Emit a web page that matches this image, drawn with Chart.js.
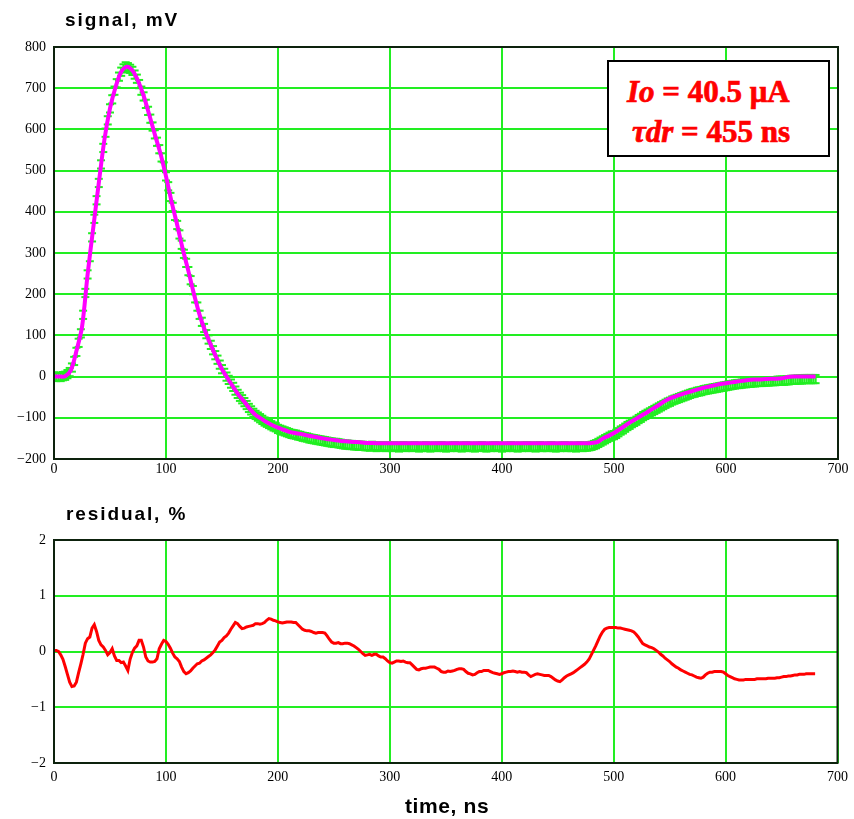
<!DOCTYPE html>
<html>
<head>
<meta charset="utf-8">
<script src="https://cdn.jsdelivr.net/npm/chart.js@4.4.1/dist/chart.umd.min.js"></script>
<style>
  body { margin: 0; background: #fff; width: 854px; height: 819px; position: relative; overflow: hidden; }
  canvas { position: absolute; left: 0; }
  .ttl { position: absolute; font-family: Arial, "Liberation Sans", sans-serif; font-weight: bold; color: #000; line-height: 1; white-space: nowrap; }
  #box { position: absolute; left: 607px; top: 60px; width: 219px; height: 93px; border: 2px solid #000; background: #fff; z-index: 5; }
  .ann { position: absolute; font-family: "Liberation Serif", "Times New Roman", serif; font-weight: 700; color: #ff0000; font-size: 31px; line-height: 1; white-space: nowrap; z-index: 6; -webkit-text-stroke: 0.7px #ff0000; }
</style>
</head>
<body>
<canvas id="signal-chart" width="854" height="490" style="top:0"></canvas>
<canvas id="residual-chart" width="854" height="329" style="top:490px"></canvas>
<div class="ttl" style="left:65px; top:10px; font-size:19px; letter-spacing:1.9px">signal, mV</div>
<div class="ttl" style="left:66px; top:504px; font-size:19px; letter-spacing:1.9px">residual, %</div>
<div class="ttl" style="left:405px; top:795px; font-size:21px; letter-spacing:0.6px">time, ns</div>
<div id="box"></div>
<div class="ann" style="left:627px; top:76px"><i>Io</i> = 40.5 μA</div>
<div class="ann" style="left:632px; top:116px"><i>τdr</i> = 455 ns</div>
<script>
// sampling steps, ns
const DATA_STEP = 2
const FIT_STEP = 5
const ERR = 10 // mV, error bar half height

// measured signal, mV, every 2 ns from 0 to 680
const signal = [
  0, -1, 0, -1, 1, 2, 6, 11, 22, 38,
  60, 82, 105, 150, 203, 248, 290, 338, 383, 428,
  470, 515, 555, 592, 622, 651, 673, 694, 712, 728,
  740, 748, 753, 751, 747, 742, 733, 723, 710, 694,
  680, 662, 645, 626, 607, 588, 570, 552, 532, 510,
  486, 462, 436, 412, 390, 368, 345, 320, 298, 276,
  256, 234, 210, 190, 170, 150, 133, 118, 103, 90,
  77, 64, 52, 41, 29, 18, 9, 0, -8, -17,
  -25, -34, -42, -49, -55, -62, -69, -76, -82, -88,
  -93, -97, -101, -105, -109, -112, -115, -118, -121, -123,
  -127, -129, -131, -133, -135, -137, -139, -140, -141, -143,
  -144, -146, -147, -148, -150, -151, -152, -153, -154, -155,
  -156, -157, -158, -159, -160, -161, -161, -162, -163, -164,
  -165, -165, -166, -166, -167, -167, -168, -168, -168, -169,
  -169, -170, -168, -169, -171, -170, -169, -170, -171, -169,
  -170, -171, -169, -170, -172, -170, -169, -171, -170, -170,
  -171, -169, -170, -172, -171, -170, -169, -171, -172, -170,
  -170, -171, -170, -169, -171, -172, -170, -171, -170, -169,
  -171, -170, -172, -170, -169, -171, -170, -171, -172, -170,
  -170, -169, -171, -172, -170, -171, -170, -169, -171, -170,
  -172, -170, -171, -170, -169, -171, -170, -172, -170, -171,
  -170, -169, -171, -170, -170, -172, -170, -169, -171, -170,
  -171, -170, -169, -171, -172, -170, -171, -170, -169, -171,
  -170, -171, -170, -172, -170, -169, -171, -170, -170, -169,
  -168, -166, -164, -161, -158, -155, -152, -149, -146, -143,
  -142, -139, -135, -131, -128, -124, -120, -117, -113, -110,
  -107, -103, -100, -96, -93, -90, -87, -84, -81, -78,
  -75, -72, -69, -66, -63, -61, -58, -56, -54, -52,
  -50, -48, -46, -44, -42, -40, -39, -37, -36, -35,
  -33, -32, -31, -30, -29, -28, -27, -26, -25, -24,
  -23, -22, -21, -20, -19, -18, -18, -17, -16, -16,
  -15, -15, -14, -14, -13, -13, -13, -12, -12, -12,
  -11, -11, -11, -10, -10, -10, -10, -9, -9, -8,
  -8, -8, -7, -7, -7, -6, -6, -6, -6, -6, -6
]

// fitted curve, mV, every 5 ns from 0 to 680
const fit = [
  0, 0, 1, 15, 62, 120, 248, 360, 470, 575,
  651, 703, 740, 752, 743, 718, 682, 636, 588, 542,
  486, 424, 368, 309, 256, 200, 150, 110, 77, 46,
  18, -4, -25, -45, -61, -79, -93, -102, -111, -118,
  -124, -129, -134, -137, -139, -142, -145, -147, -150, -152,
  -154, -156, -157, -158, -159, -160, -161, -161, -162, -162,
  -162, -162, -162, -162, -162, -162, -162, -162, -162, -162,
  -162, -162, -162, -162, -162, -162, -162, -162, -162, -162,
  -162, -162, -162, -162, -162, -162, -162, -162, -162, -162,
  -162, -162, -162, -162, -162, -162, -161, -159, -150, -144,
  -137, -128, -119, -110, -102, -94, -86, -77, -69, -60,
  -53, -48, -43, -39, -35, -31, -27, -24, -21, -18,
  -16, -14, -12, -10, -8, -7, -7, -6, -5, -5,
  -4, -1, 0, 0, 0, 0, 0
]

// residual, %, every 2 ns from 0 to 680
const residual = [
  0.02, 0.02, 0.0, -0.06, -0.14, -0.27, -0.41, -0.55, -0.63, -0.62,
  -0.55, -0.38, -0.22, -0.05, 0.15, 0.23, 0.26, 0.42, 0.48, 0.36,
  0.2, 0.12, 0.08, 0.02, -0.06, -0.02, 0.05, -0.08, -0.16, -0.16,
  -0.2, -0.19, -0.26, -0.34, -0.14, -0.02, 0.06, 0.1, 0.2, 0.2,
  0.08, -0.1, -0.17, -0.19, -0.19, -0.18, -0.13, 0.05, 0.13, 0.2,
  0.18, 0.13, 0.06, -0.03, -0.1, -0.13, -0.18, -0.28, -0.36, -0.4,
  -0.38, -0.35, -0.3, -0.26, -0.22, -0.21, -0.17, -0.15, -0.12, -0.09,
  -0.06, -0.02, 0.03, 0.1, 0.17, 0.2, 0.25, 0.28, 0.33, 0.4,
  0.46, 0.52, 0.5, 0.45, 0.41, 0.42, 0.44, 0.45, 0.46, 0.47,
  0.5, 0.5, 0.49, 0.5, 0.52, 0.56, 0.59, 0.58, 0.56, 0.55,
  0.53, 0.52, 0.51, 0.52, 0.53, 0.53, 0.53, 0.52, 0.52, 0.48,
  0.44, 0.4, 0.38, 0.37, 0.37, 0.36, 0.34, 0.33, 0.34, 0.34,
  0.34, 0.33, 0.28, 0.22, 0.17, 0.15, 0.15, 0.16, 0.14, 0.14,
  0.15, 0.15, 0.14, 0.12, 0.1, 0.07, 0.04, 0.0, -0.04, -0.07,
  -0.06, -0.05, -0.07, -0.05, -0.05, -0.08, -0.1, -0.1, -0.13, -0.17,
  -0.2, -0.21, -0.19, -0.17, -0.17, -0.18, -0.17, -0.19, -0.2, -0.2,
  -0.24, -0.28, -0.32, -0.33, -0.31, -0.3, -0.3, -0.29, -0.28, -0.28,
  -0.28, -0.3, -0.32, -0.36, -0.37, -0.37, -0.35, -0.36, -0.35, -0.34,
  -0.32, -0.31, -0.31, -0.32, -0.36, -0.39, -0.4, -0.42, -0.41, -0.38,
  -0.36, -0.36, -0.34, -0.34, -0.34, -0.36, -0.38, -0.39, -0.4, -0.41,
  -0.4, -0.38, -0.37, -0.36, -0.36, -0.35, -0.36, -0.37, -0.36, -0.37,
  -0.37, -0.38, -0.42, -0.45, -0.43, -0.41, -0.4, -0.41, -0.42, -0.43,
  -0.43, -0.43, -0.45, -0.48, -0.51, -0.53, -0.54, -0.51, -0.47, -0.44,
  -0.42, -0.4, -0.38, -0.35, -0.32, -0.29, -0.26, -0.23, -0.19, -0.14,
  -0.06, 0.02, 0.1, 0.19, 0.28, 0.35, 0.4, 0.42, 0.43, 0.43,
  0.43, 0.43, 0.42, 0.42, 0.41, 0.4, 0.39, 0.38, 0.37, 0.35,
  0.31, 0.26, 0.2, 0.14, 0.12, 0.1, 0.08, 0.07, 0.05, 0.02,
  -0.01, -0.05, -0.08, -0.12, -0.15, -0.18, -0.22, -0.25, -0.28, -0.3,
  -0.33, -0.35, -0.37, -0.39, -0.41, -0.42, -0.44, -0.46, -0.47, -0.48,
  -0.46, -0.42, -0.39, -0.37, -0.37, -0.36, -0.36, -0.36, -0.36, -0.37,
  -0.4, -0.43, -0.45, -0.47, -0.49, -0.5, -0.51, -0.51, -0.51, -0.5,
  -0.5, -0.5, -0.5, -0.5, -0.49, -0.49, -0.49, -0.49, -0.49, -0.48,
  -0.48, -0.48, -0.48, -0.47, -0.47, -0.46, -0.45, -0.45, -0.44, -0.44,
  -0.43, -0.42, -0.42, -0.41, -0.41, -0.41, -0.4, -0.4, -0.4, -0.4, -0.4
]

const timeTicks = { min: 0, max: 700, step: 100 }
const signalTicks = { min: -200, max: 800, step: 100 }
const residualTicks = { min: -2, max: 2, step: 1 }

const GRID = '#22ee22'
const FRAME = '#0d220d'
const tickFont = { family: '"Liberation Serif", "Times New Roman", serif', size: 14 }
const minusLabel = v => v < 0 ? '\u2212' + Math.abs(v) : String(v)

// dark frame around the plot area
const framePlugin = {
  id: 'frame',
  afterDraw(chart) {
    const { ctx, chartArea: a } = chart
    ctx.save()
    ctx.strokeStyle = FRAME
    ctx.lineWidth = 2
    ctx.strokeRect(a.left, a.top, a.right - a.left, a.bottom - a.top)
    ctx.restore()
  }
}

function xScale(height, pad) {
  return {
    type: 'linear',
    offset: false,
    min: timeTicks.min, max: timeTicks.max,
    ticks: { stepSize: timeTicks.step, color: '#000', font: tickFont, padding: pad, maxRotation: 0 },
    grid: { color: GRID, lineWidth: 2, drawTicks: false, offset: false },
    border: { display: false },
    afterFit(scale) { scale.height = height }
  }
}

function yScale(t) {
  return {
    min: t.min, max: t.max,
    ticks: { stepSize: t.step, color: '#000', font: tickFont, padding: 8, callback: minusLabel },
    grid: { color: GRID, lineWidth: 2, drawTicks: false },
    border: { display: false },
    afterFit(scale) { scale.width = 54 }
  }
}

const commonOpts = {
  responsive: false,
  animation: false,
  events: [],
  plugins: { legend: { display: false }, tooltip: { enabled: false } }
}

const dataPts = signal.map((v, i) => ({ x: i * DATA_STEP, y: v }))

new Chart(document.getElementById('signal-chart'), {
  type: 'line',
  data: {
    datasets: [
      {
        label: 'fit',
        data: fit.map((v, i) => ({ x: i * FIT_STEP, y: v })),
        borderColor: '#ff00ff',
        borderWidth: 4,
        pointRadius: 0,
        tension: 0.3,
        order: 0
      },
      {
        label: 'upper',
        data: dataPts.map(p => ({ x: p.x, y: p.y + ERR })),
        showLine: false,
        pointStyle: 'line',
        pointRadius: 4,
        pointBorderWidth: 2,
        pointBorderColor: GRID,
        order: 1
      },
      {
        label: 'lower',
        data: dataPts.map(p => ({ x: p.x, y: p.y - ERR })),
        showLine: false,
        pointStyle: 'line',
        pointRadius: 4,
        pointBorderWidth: 2,
        pointBorderColor: GRID,
        order: 2
      },
      {
        type: 'bar',
        label: 'error',
        data: dataPts.map(p => ({ x: p.x, y: [p.y - ERR, p.y + ERR] })),
        backgroundColor: GRID,
        barThickness: 1.5,
        order: 3
      }
    ]
  },
  options: {
    ...commonOpts,
    layout: { padding: { top: 47, right: 16, left: 0, bottom: 0 } },
    scales: { x: xScale(31, 2), y: yScale(signalTicks) }
  },
  plugins: [framePlugin]
})

new Chart(document.getElementById('residual-chart'), {
  type: 'line',
  data: {
    datasets: [{
      label: 'residual',
      data: residual.map((v, i) => ({ x: i * DATA_STEP, y: v })),
      borderColor: '#ff0000',
      borderWidth: 3,
      pointRadius: 0
    }]
  },
  options: {
    ...commonOpts,
    layout: { padding: { top: 50, right: 16, left: 0, bottom: 0 } },
    scales: { x: xScale(56, 6), y: yScale(residualTicks) }
  },
  plugins: [framePlugin]
})
</script>
</body>
</html>
